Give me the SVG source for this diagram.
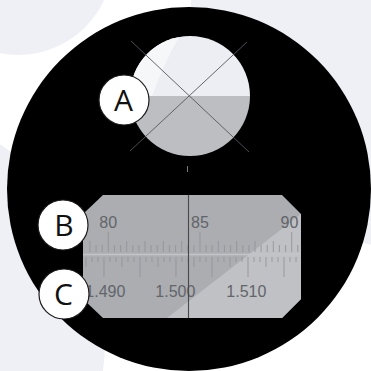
<svg xmlns="http://www.w3.org/2000/svg" width="371" height="371" viewBox="0 0 371 371">
  <defs>
    <style>
      .bgtint { fill: #eef0f5; }
      .cross { stroke: #55575b; stroke-width: 0.9; fill: none; }
      .tick { stroke: #929498; stroke-width: 0.9; fill: none; }
      .scale-num { font-family: "Liberation Sans", Arial, sans-serif; font-size: 16px; fill: #62656a; }
      .label-disc { fill: #ffffff; stroke: #1c1c1c; stroke-width: 1.2; }
      .label-text { font-family: "Open Sans", "Liberation Sans", sans-serif; font-size: 30px; fill: #111111; text-anchor: middle; }
    </style>
    <clipPath id="windowClip">
      <circle cx="190" cy="96" r="60"/>
    </clipPath>
    <clipPath id="plateClip">
      <polygon points="103,195 282,195 301,214 301,299 282,318 103,318 83,299 83,214"/>
    </clipPath>
  </defs>

  <!-- soft backdrop -->
  <g id="backdrop">
    <rect x="0" y="0" width="371" height="371" fill="#ffffff"/>
    <circle class="bgtint" cx="18" cy="-40" r="95"/>
    <circle class="bgtint" cx="420" cy="20" r="230"/>
    <circle class="bgtint" cx="-130" cy="340" r="235"/>
  </g>

  <!-- eyepiece field -->
  <g id="eyepiece">
    <circle cx="189" cy="189" r="182" fill="#000000"/>
  </g>

  <!-- prism window with boundary line and crosshair -->
  <g id="window">
    <g clip-path="url(#windowClip)">
      <rect x="128" y="34" width="124" height="62" fill="#eceef3"/>
      <path d="M181,34 Q166,58 152,96 L128,96 L128,34 Z" fill="#f6f7f9"/>
      <rect x="128" y="96" width="124" height="62" fill="#bcbec2"/>
    </g>
    <line class="cross" x1="131" y1="41" x2="249" y2="152"/>
    <line class="cross" x1="247" y1="42" x2="130" y2="151"/>
    <line x1="187.5" y1="166" x2="187.5" y2="172" stroke="#77797d" stroke-width="1"/>
  </g>

  <!-- reading scale plate -->
  <g id="scale">
    <g clip-path="url(#plateClip)">
      <rect x="83" y="195" width="218" height="123" fill="#abadb1"/>
      <polygon points="167,318 301,214 301,318" fill="#c0c1c4"/>
    </g>
    <line x1="83" y1="254.5" x2="301" y2="254.5" stroke="#c4c5c8" stroke-width="1.5"/>
    <!-- upper (Brix) graduations -->
    <path class="tick" d="M96.1 245V252M102.2 245V252M114.4 245V252M120.6 245V252M132.8 245V252M138.9 245V252M151.1 245V252M157.2 245V252M169.4 245V252M175.6 245V252M187.8 245V252M193.9 245V252M206.1 245V252M212.2 245V252M224.4 245V252M230.6 245V252M242.8 245V252M248.9 245V252M261.1 245V252M267.2 245V252M279.4 245V252M285.6 245V252M297.8 245V252"/>
    <path class="tick" d="M90 241V252M126.7 241V252M145 241V252M163.3 241V252M181.7 241V252M218.3 241V252M236.7 241V252M255 241V252M273.3 241V252"/>
    <path class="tick" d="M108.3 232V252M200 232V252M291.7 232V252"/>
    <!-- lower (refractive index) graduations -->
    <path class="tick" d="M92 257V262M98 257V262M110 257V262M116 257V262M128 257V262M134 257V262M146 257V262M152 257V262M164 257V262M170 257V262M182 257V262M188 257V262M200 257V262M206 257V262M218 257V262M224 257V262M236 257V262M242 257V262M254 257V262M260 257V262M272 257V262M278 257V262M290 257V262M296 257V262"/>
    <path class="tick" d="M86 257V267M122 257V267M158 257V267M194 257V267M230 257V267M266 257V267"/>
    <path class="tick" d="M104 257V277M140 257V277M176 257V277M212 257V277M248 257V277M284 257V277"/>
    <text class="scale-num" x="99.3" y="228">80</text>
    <text class="scale-num" x="191" y="228">85</text>
    <text class="scale-num" x="280.5" y="228">90</text>
    <text class="scale-num" x="85.3" y="297">1.490</text>
    <text class="scale-num" x="155.3" y="297">1.500</text>
    <text class="scale-num" x="226.3" y="297">1.510</text>
    <line x1="188.5" y1="195" x2="188.5" y2="318" stroke="#46484c" stroke-width="1.1"/>
  </g>

  <!-- callout labels -->
  <g id="label-a">
    <circle class="label-disc" cx="124" cy="100" r="25"/>
    <text class="label-text" x="123.5" y="111">A</text>
  </g>
  <g id="label-b">
    <circle class="label-disc" cx="63" cy="225" r="25"/>
    <text class="label-text" x="64" y="236">B</text>
  </g>
  <g id="label-c">
    <circle class="label-disc" cx="64" cy="294" r="25"/>
    <text class="label-text" x="63.5" y="305">C</text>
  </g>
</svg>
